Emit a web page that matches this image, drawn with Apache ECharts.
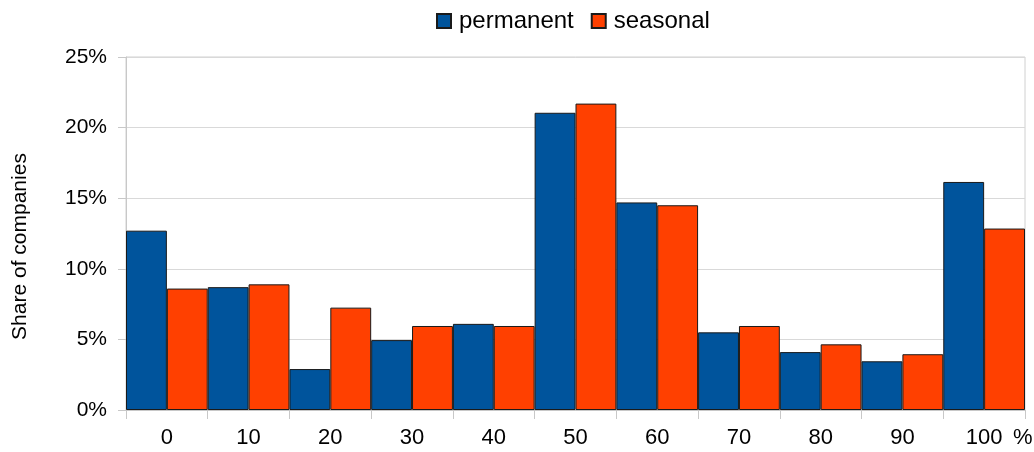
<!DOCTYPE html>
<html>
<head>
<meta charset="utf-8">
<script src="https://cdn.jsdelivr.net/npm/echarts@6/dist/echarts.min.js"></script>
<style>html,body{margin:0;padding:0;background:#fff;}#c{width:1034px;height:452px;}</style>
</head>
<body>
<div id="c"></div>
<script>
var categories = ['0','10','20','30','40','50','60','70','80','90','100'];
var permanent = [12.7, 8.7, 2.9, 4.95, 6.1, 21.05, 14.7, 5.5, 4.1, 3.45, 16.15];
var seasonal  = [8.6, 8.9, 7.25, 5.95, 5.95, 21.7, 14.5, 5.95, 4.65, 3.95, 12.85];
var yTicks = [0, 5, 10, 15, 20, 25];

var FONT = '"Liberation Sans", Arial, Helvetica, sans-serif';
var chart = echarts.init(document.getElementById('c'));
chart.setOption({
  animation: false,
  backgroundColor: '#ffffff',
  textStyle: { fontFamily: FONT },
  legend: {
    top: 4,
    left: 431,
    itemWidth: 14,
    itemHeight: 14,
    itemGap: 17,
    icon: 'rect',
    textStyle: { fontSize: 24, color: '#000', fontFamily: FONT, padding: [0, 0, 0, 3] },
    data: ['permanent', 'seasonal']
  },
  grid: {
    left: 126, right: 9, top: 57, bottom: 42,
    outerBoundsMode: 'none',
    containLabel: false,
    show: true, borderColor: '#d0d0d0', borderWidth: 1, backgroundColor: 'transparent'
  },
  xAxis: {
    type: 'category',
    data: categories,
    name: '%',
    nameLocation: 'end',
    nameGap: -12,
    nameTextStyle: { fontSize: 22, color: '#000', verticalAlign: 'top', padding: [17, 0, 0, 0], fontFamily: FONT },
    axisLine: { lineStyle: { color: '#c8c8c8', width: 1 } },
    axisTick: { show: true, length: 9, lineStyle: { color: '#c8c8c8' } },
    axisLabel: { fontSize: 22, color: '#000', margin: 17, fontFamily: FONT }
  },
  yAxis: {
    type: 'value',
    min: yTicks[0],
    max: yTicks[yTicks.length - 1],
    interval: yTicks[1] - yTicks[0],
    name: 'Share of companies',
    nameLocation: 'middle',
    nameGap: 95,
    nameRotate: 90,
    nameTextStyle: { fontSize: 21, color: '#000', fontFamily: FONT, padding: [0, 26, 0, 0] },
    axisLine: { show: true, lineStyle: { color: '#c8c8c8', width: 1 } },
    axisTick: { show: true, length: 8, lineStyle: { color: '#c8c8c8' } },
    axisLabel: { fontSize: 21, color: '#000', margin: 19, formatter: '{value}%', fontFamily: FONT },
    splitLine: { show: true, lineStyle: { color: '#d9d9d9', width: 1 } }
  },
  series: [
    {
      name: 'permanent', type: 'bar', data: permanent,
      barGap: '0%', barCategoryGap: '0%',
      itemStyle: { color: '#00549c', borderColor: '#1a1a1a', borderWidth: 1 }
    },
    {
      name: 'seasonal', type: 'bar', data: seasonal,
      barGap: '0%', barCategoryGap: '0%',
      itemStyle: { color: '#ff4000', borderColor: '#1a1a1a', borderWidth: 1 }
    }
  ]
});
</script>
</body>
</html>
